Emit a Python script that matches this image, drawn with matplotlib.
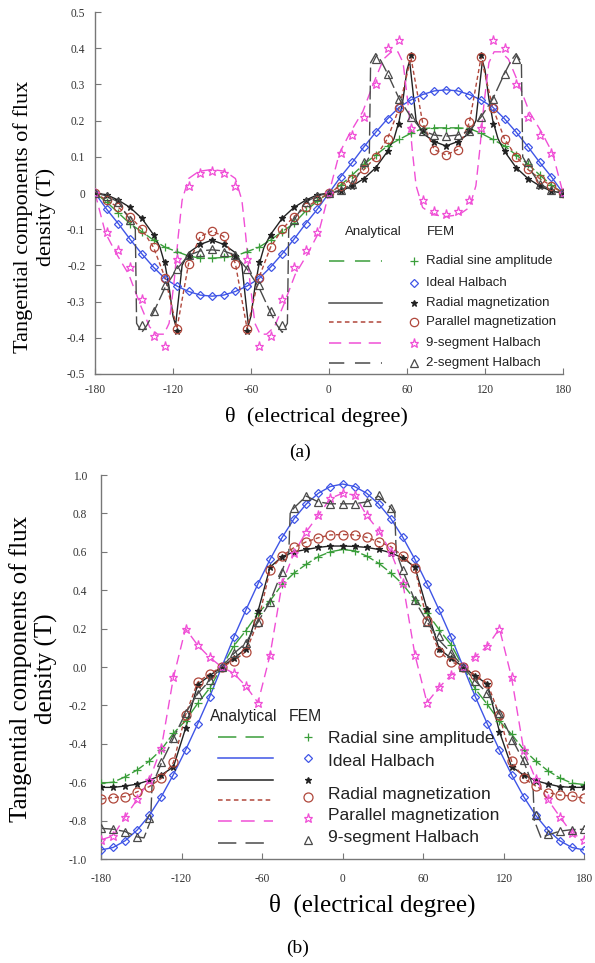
import numpy as np
import matplotlib
matplotlib.use('Agg')
import matplotlib.pyplot as plt

plt.rcParams['font.family'] = ['Liberation Serif', 'DejaVu Serif']
plt.rcParams['axes.unicode_minus'] = False

# FEM sample positions (electrical degree)
theta = np.arange(-180, 181, 9)

# ---------------- panel (a): FEM values ----------------
ideal_a = [0, -.045, -.085, -.128, -.168, -.205, -.237, -.257, -.272, -.282, -.285, -.282, -.272, -.257, -.237, -.205, -.168, -.128, -.085, -.045,
           0, .045, .085, .128, .168, .205, .237, .257, .272, .282, .285, .282, .272, .257, .237, .205, .168, .128, .085, .045, 0]
sine_a = [0, -.025, -.055, -.085, -.107, -.13, -.15, -.162, -.174, -.18, -.18, -.178, -.174, -.162, -.15, -.13, -.107, -.084, -.05, -.022,
          0, .022, .05, .08, .105, .13, .148, .165, .178, .18, .18, .18, .178, .165, .148, .13, .105, .08, .05, .022, 0]
radial_a = [0, -.005, -.02, -.04, -.07, -.115, -.19, -.38, -.175, -.142, -.13, -.142, -.175, -.38, -.19, -.115, -.07, -.04, -.02, -.005,
            0, .005, .02, .04, .07, .115, .19, .38, .175, .142, .13, .142, .175, .38, .19, .115, .07, .04, .02, .005, 0]
parallel_a = [0, -.02, -.04, -.065, -.1, -.15, -.235, -.375, -.195, -.12, -.105, -.12, -.195, -.375, -.235, -.15, -.1, -.065, -.04, -.02,
              0, .02, .04, .065, .1, .15, .235, .375, .195, .12, .105, .12, .195, .375, .235, .15, .1, .065, .04, .02, 0]
seg9_a = [0, -.107, -.157, -.204, -.294, -.394, -.423, -.183, .02, .055, .06, .055, .02, -.183, -.423, -.394, -.294, -.204, -.157, -.107,
          0, .11, .16, .21, .3, .4, .423, .18, -.02, -.05, -.058, -.05, -.02, .18, .423, .4, .3, .21, .16, .11, 0]
seg2_a = [0, -.008, -.025, -.075, -.365, -.325, -.254, -.211, -.172, -.162, -.156, -.162, -.172, -.211, -.254, -.325, -.365, -.075, -.025, -.008,
          0, .008, .025, .085, .37, .33, .26, .21, .172, .16, .157, .16, .172, .21, .26, .33, .37, .085, .025, .008, 0]

# ---------------- panel (a): analytical curves ----------------
radial_line_th = [-180, -171, -162, -153, -144, -135, -130, -126, -123, -120, -118, -116, -113, -108, -99, -90, -81, -72, -67, -64,
                  -62, -60, -57, -54, -50, -45, -36, -27, -18, -9,
                  0, 9, 18, 27, 36, 45, 50, 54, 57, 60, 62, 64, 67, 72, 81, 90, 99, 108, 113, 116, 118, 120, 123, 126, 130,
                  135, 144, 153, 162, 171, 180]
radial_line_b = [0, -.005, -.02, -.04, -.07, -.115, -.15, -.2, -.26, -.34, -.365, -.3, -.2, -.165, -.142, -.13, -.142, -.165, -.2, -.3,
                 -.365, -.34, -.26, -.2, -.15, -.115, -.07, -.04, -.02, -.005,
                 0, .005, .02, .04, .07, .115, .15, .2, .26, .34, .365, .3, .2, .165, .142, .13, .142, .165, .2, .3, .365, .34, .26, .2, .15,
                 .115, .07, .04, .02, .005, 0]
seg9_line_th = [-180, -172, -164, -154, -145, -138, -132, -127, -123, -119, -116, -113, -108, -100, -90, -80, -72, -67, -64, -61,
                -57, -53, -48, -42, -35, -26, -16, -8,
                0, 8, 16, 26, 35, 42, 48, 53, 57, 61, 64, 67, 72, 80, 90, 100, 108, 113, 116, 119, 123, 127, 132, 138, 145,
                154, 164, 172, 180]
seg9_line_b = [0, -.11, -.165, -.225, -.31, -.37, -.39, -.39, -.36, -.24, -.12, -.02, .04, .06, .065, .06, .04, -.02, -.12, -.24,
               -.36, -.39, -.39, -.37, -.31, -.225, -.165, -.11,
               0, .11, .165, .225, .31, .37, .39, .39, .36, .24, .12, .02, -.04, -.06, -.065, -.06, -.04, .02, .12, .24, .36, .39, .39, .37, .31,
               .225, .165, .11, 0]
seg2_line_th = [-180, -171, -162, -153, -149, -148, -144, -140, -135, -126, -117, -108, -99, -90, -81, -72, -63, -54, -45, -40,
                -36, -32, -31, -27, -18, -9,
                0, 9, 18, 27, 31, 32, 36, 40, 45, 54, 63, 72, 81, 90, 99, 108, 117, 126, 135, 140, 144, 148, 149, 153,
                162, 171, 180]
seg2_line_b = [0, -.008, -.025, -.075, -.1, -.36, -.385, -.365, -.33, -.26, -.21, -.172, -.16, -.157, -.16, -.172, -.21, -.26, -.33, -.365,
               -.385, -.36, -.1, -.075, -.025, -.008,
               0, .008, .025, .075, .1, .36, .385, .365, .33, .26, .21, .172, .16, .157, .16, .172, .21, .26, .33, .365, .385, .36, .1, .075,
               .025, .008, 0]

# ---------------- panel (b): FEM values ----------------
ideal_b = [-.953, -.94, -.905, -.849, -.773, -.675, -.56, -.433, -.297, -.155, 0, .155, .297, .433, .56, .675, .773, .849, .905, .94,
           .953, .94, .905, .849, .773, .675, .56, .433, .297, .155, 0, -.155, -.297, -.433, -.56, -.675, -.773, -.849, -.905, -.94, -.953]
sine_b = [-.605, -.6, -.572, -.536, -.49, -.43, -.345, -.28, -.19, -.11, 0, .11, .19, .28, .345, .43, .49, .535, .575, .6,
          .612, .605, .578, .54, .49, .43, .35, .282, .195, .115, 0, -.115, -.195, -.282, -.35, -.43, -.49, -.54, -.578, -.605, -.612]
radial_b = [-.627, -.627, -.62, -.61, -.59, -.5625, -.52, -.32, -.092, -.045, 0, .045, .095, .29, .52, .575, .6, .612, .623, .63,
            .63, .628, .623, .612, .595, .568, .52, .3, .095, .045, 0, -.047, -.089, -.337, -.519, -.5625, -.592, -.609, -.623, -.627, -.627]
parallel_b = [-.688, -.68, -.675, -.65, -.623, -.58, -.497, -.25, -.08, -.035, 0, .033, .08, .236, .505, .578, .623, .652, .673, .688,
              .69, .688, .675, .652, .627, .578, .514, .241, .08, .028, 0, -.042, -.085, -.25, -.49, -.58, -.62, -.654, -.667, -.672, -.684]
seg9_b = [-.9, -.88, -.78, -.69, -.59, -.42, -.054, .2, .114, .05, 0, -.033, -.1, -.186, .0625, .436, .595, .705, .79, .878,
          .905, .896, .79, .71, .6, .436, .0625, -.186, -.106, -.042, 0, .054, .109, .2, -.054, -.43, -.585, -.69, -.78, -.866, -.9]
seg2_b = [-.84, -.845, -.857, -.884, -.788, -.493, -.37, -.24, -.14, -.07, 0, .071, .123, .235, .34, .497, .826, .89, .86, .849,
          .849, .85, .86, .896, .83, .505, .349, .236, .16, .075, 0, -.073, -.137, -.24, -.38, -.484, -.77, -.87, -.852, -.849, -.845]

seg2_line_th_b = [-180, -171, -162, -153, -148, -143, -142, -135, -126, -117, -108, -99, -90, -81, -72, -63, -54, -45, -40, -39,
                  -36, -27, -18, -9, 0, 9, 18, 27, 36, 39, 40, 45, 54, 63, 72, 81, 90, 99, 108, 117,
                  126, 135, 142, 143, 148, 153, 162, 171, 180]
seg2_line_b_b = [-.84, -.845, -.857, -.885, -.89, -.8, -.62, -.5, -.37, -.24, -.14, -.07, 0, .07, .125, .235, .34, .5, .6, .8,
                 .83, .89, .86, .85, .85, .85, .86, .89, .83, .8, .6, .5, .345, .236, .14, .073, 0, -.073, -.137, -.24,
                 -.37, -.49, -.62, -.8, -.89, -.875, -.855, -.847, -.845]

# colours
C_GREEN = '#3a9e3a'
C_BLUE = '#3f55e6'
C_BLACK = '#222222'
C_RED = '#b0473b'
C_MAG = '#f04fd6'
C_GRAY = '#4a4a4a'

fig = plt.figure(figsize=(5.95, 9.63), dpi=100)


def style_axes(ax, ylim, yticks, yticklabels, pad):
    ax.set_xlim(-180, 180)
    ax.set_ylim(*ylim)
    ax.set_xticks([-180, -120, -60, 0, 60, 120, 180])
    ax.set_xticklabels(['-180', '-120', '-60', '0', '60', '120', '180'])
    ax.set_yticks(yticks)
    ax.set_yticklabels(yticklabels)
    for s in ['top', 'right']:
        ax.spines[s].set_visible(False)
    for s in ['left', 'bottom']:
        ax.spines[s].set_color('#777777')
        ax.spines[s].set_linewidth(1.0)
    ax.tick_params(direction='in', length=4, width=0.8, color='#777777',
                   labelsize=8.3, labelcolor='#333333', pad=pad)
    ax.set_facecolor('none')


def draw_fem(ax, th, vals, marker, color, ms, filled=False):
    ax.plot(th, vals, linestyle='none', marker=marker, ms=ms,
            mfc=color if filled else 'none', mec=color, mew=0.9, zorder=4)


def legend_rows(ax, x_line, x_mark, x_text, header_y, header_xs, rows, fs_head, fs_row):
    ax.text(header_xs[0], header_y, 'Analytical', transform=ax.transAxes, fontsize=fs_head,
            family='Liberation Sans', va='center', color='#222222')
    ax.text(header_xs[1], header_y, 'FEM', transform=ax.transAxes, fontsize=fs_head,
            family='Liberation Sans', va='center', color='#222222')
    for r in rows:
        if r['line'] is not None:
            ax.plot(x_line, [r['y'], r['y']], transform=ax.transAxes, color=r['line'][0],
                    lw=1.1, dashes=r['line'][1], clip_on=False)
        ax.plot([x_mark], [r['my']], transform=ax.transAxes, linestyle='none', marker=r['marker'][0],
                ms=r['marker'][2], mfc=r['marker'][1] if r['marker'][3] else 'none',
                mec=r['marker'][1], mew=0.9, clip_on=False)
        if r['text']:
            ax.text(x_text, r['ty'], r['text'], transform=ax.transAxes, fontsize=fs_row,
                    family='Liberation Sans', va='center', color='#222222')


# ================= panel (a) =================
ax1 = fig.add_axes([95 / 595, 1 - 374 / 963, 468 / 595, 362 / 963])
style_axes(ax1, (-0.5, 0.5), np.arange(-0.5, 0.51, 0.1),
           ['-0.5', '-0.4', '-0.3', '-0.2', '-0.1', '0', '0.1', '0.2', '0.3', '0.4', '0.5'], 7)

ax1.plot(theta, sine_a, color=C_GREEN, lw=1.0, dashes=(10, 2), zorder=2)
ax1.plot(theta, ideal_a, color=C_BLUE, lw=1.0, zorder=2)
ax1.plot(radial_line_th, radial_line_b, color=C_BLACK, lw=1.0, zorder=2)
ax1.plot(theta, parallel_a, color=C_RED, lw=1.0, dashes=(3, 2), zorder=2)
ax1.plot(seg9_line_th, seg9_line_b, color=C_MAG, lw=1.0, dashes=(7, 4), zorder=2)
ax1.plot(seg2_line_th, seg2_line_b, color=C_GRAY, lw=1.0, dashes=(10, 3), zorder=2)

draw_fem(ax1, theta, sine_a, '+', C_GREEN, 6)
draw_fem(ax1, theta, ideal_a, 'D', C_BLUE, 4.5)
draw_fem(ax1, theta, radial_a, '*', C_BLACK, 5, filled=True)
draw_fem(ax1, theta, parallel_a, 'o', C_RED, 6)
draw_fem(ax1, theta, seg9_a, '*', C_MAG, 6.5)
draw_fem(ax1, theta, seg2_a, '^', C_GRAY, 6)

rows_a = [
    dict(y=0.312, my=0.312, ty=0.312, line=(C_GREEN, (10, 7)), marker=('+', C_GREEN, 6, False), text='Radial sine amplitude'),
    dict(y=0.251, my=0.251, ty=0.251, line=None, marker=('D', C_BLUE, 4.5, False), text='Ideal Halbach'),
    dict(y=0.196, my=0.196, ty=0.196, line=(C_GRAY, (None, None)), marker=('*', C_BLACK, 5, True), text='Radial magnetization'),
    dict(y=0.144, my=0.144, ty=0.144, line=(C_RED, (3, 2.2)), marker=('o', C_RED, 6, False), text='Parallel magnetization'),
    dict(y=0.086, my=0.086, ty=0.086, line=(C_MAG, (8, 5)), marker=('*', C_MAG, 6.5, False), text='9-segment Halbach'),
    dict(y=0.030, my=0.030, ty=0.030, line=(C_GRAY, (10, 7)), marker=('^', C_GRAY, 6, False), text='2-segment Halbach'),
]
legend_rows(ax1, [0.50, 0.613], 0.682, 0.707, 0.392, (0.534, 0.709), rows_a, 9.5, 9.5)

fig.text(34.5 / 595, 1 - 216.5 / 963, 'Tangential components of flux\ndensity (T)', rotation=90,
         ha='center', va='center', multialignment='center', fontsize=16, linespacing=1.2)
fig.text(316 / 595, 1 - 417 / 963, '\u03b8  (electrical degree)', ha='center', va='center', fontsize=16)
fig.text(300 / 595, 1 - 452 / 963, '(a)', ha='center', va='center', fontsize=14)

# ================= panel (b) =================
ax2 = fig.add_axes([101 / 595, 1 - 859 / 963, 483 / 595, 384 / 963])
style_axes(ax2, (-1.0, 1.0), np.arange(-1.0, 1.01, 0.2),
           ['-1.0', '-0.8', '-0.6', '-0.4', '-0.2', '0.0', '0.2', '0.4', '0.6', '0.8', '1.0'], 10)

ax2.plot(theta, sine_b, color=C_GREEN, lw=1.0, dashes=(10, 2), zorder=2)
ax2.plot(theta, ideal_b, color=C_BLUE, lw=1.0, zorder=2)
ax2.plot(theta, radial_b, color=C_BLACK, lw=1.0, zorder=2)
ax2.plot(theta, parallel_b, color=C_RED, lw=1.0, dashes=(3, 2), zorder=2)
ax2.plot(theta, seg9_b, color=C_MAG, lw=1.0, dashes=(7, 4), zorder=2)
ax2.plot(seg2_line_th_b, seg2_line_b_b, color=C_GRAY, lw=1.0, dashes=(10, 3), zorder=2)

draw_fem(ax2, theta, sine_b, '+', C_GREEN, 6)
draw_fem(ax2, theta, ideal_b, 'D', C_BLUE, 4.5)
draw_fem(ax2, theta, radial_b, '*', C_BLACK, 5, filled=True)
draw_fem(ax2, theta, parallel_b, 'o', C_RED, 6.5)
draw_fem(ax2, theta, seg9_b, '*', C_MAG, 6.5)
draw_fem(ax2, theta, seg2_b, '^', C_GRAY, 6)

rows_b = [
    dict(y=0.318, my=0.318, ty=0.3125, line=(C_GREEN, (12, 6)), marker=('+', C_GREEN, 6, False), text='Radial sine amplitude'),
    dict(y=0.263, my=0.263, ty=0.255, line=(C_BLUE, (None, None)), marker=('D', C_BLUE, 4.5, False), text='Ideal Halbach'),
    dict(y=0.206, my=0.206, ty=0.206, line=(C_BLACK, (None, None)), marker=('*', C_BLACK, 5, True), text=''),
    dict(y=0.154, my=0.161, ty=0.167, line=(C_RED, (3, 2.2)), marker=('o', C_RED, 6.5, False), text='Radial magnetization'),
    dict(y=0.099, my=0.107, ty=0.112, line=(C_MAG, (9, 6)), marker=('*', C_MAG, 6.5, False), text='Parallel magnetization'),
    dict(y=0.042, my=0.049, ty=0.057, line=(C_GRAY, (12, 6)), marker=('^', C_GRAY, 6, False), text='9-segment Halbach'),
]
legend_rows(ax2, [0.242, 0.357], 0.428, 0.470, 0.37, (0.226, 0.389), rows_b, 11.3, 12.5)

fig.text(33.5 / 595, 1 - 668.5 / 963, 'Tangential components of flux\ndensity (T)', rotation=90,
         ha='center', va='center', multialignment='center', fontsize=18, linespacing=1.2)
fig.text(372 / 595, 1 - 905 / 963, '\u03b8  (electrical degree)', ha='center', va='center', fontsize=18)
fig.text(298 / 595, 1 - 948 / 963, '(b)', ha='center', va='center', fontsize=14)

fig.savefig('out.png', dpi=100)
